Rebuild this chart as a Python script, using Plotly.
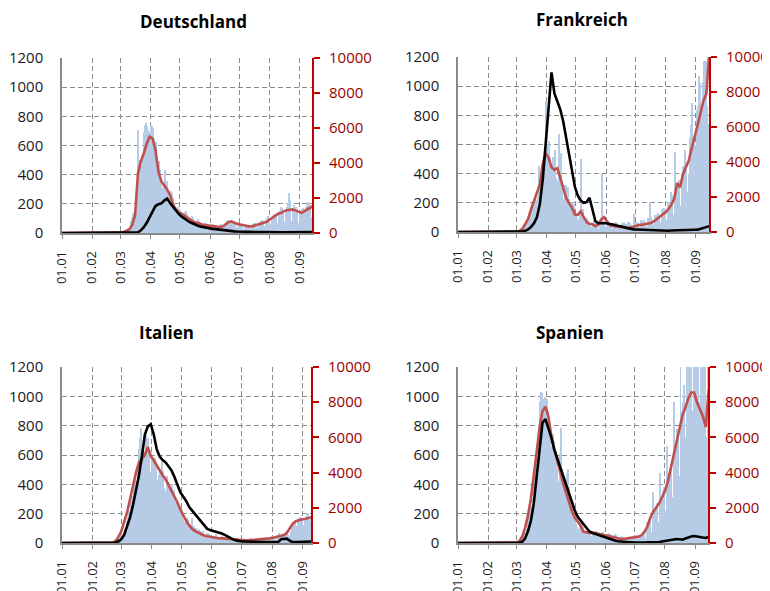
import pandas as pd
import plotly.graph_objects as go

# ---------------- data ----------------
countries = ["Deutschland", "Frankreich", "Italien", "Spanien"]

month_ticks = ["2020-01-01", "2020-02-01", "2020-03-01", "2020-04-01", "2020-05-01",
               "2020-06-01", "2020-07-01", "2020-08-01", "2020-09-01"]
month_labels = ["01.01", "01.02", "01.03", "01.04", "01.05", "01.06", "01.07", "01.08", "01.09"]
cases_ticks = [0, 2000, 4000, 6000, 8000, 10000]
deaths_ticks = [0, 200, 400, 600, 800, 1000, 1200]

# line points every 3 days from 01.01.2020 (87 points)
line_dates = pd.date_range("2020-01-01", periods=87, freq="3D")
# daily bars from 24.02.2020 to 14.09.2020 (204 days)
bar_dates = pd.date_range("2020-02-24", periods=204, freq="D")

# 7-day mean of new cases (red, right axis)
de_cases_avg = [0, 0, 0, 0, 0, 0, 0, 0, 0, 0, 0, 0, 0, 0, 0, 0, 0, 0, 2, 10,
                20, 50, 120, 200, 450, 1000, 3400, 4100, 4550, 5100, 5500, 5400, 4730, 3500, 2950,
                2730, 2480, 2160, 1640, 1340, 1160, 1100, 1000, 850, 750, 640, 580, 540, 490, 450,
                420, 390, 370, 350, 340, 370, 500, 620, 660, 580, 520, 490, 450, 400, 380, 380,
                420, 470, 530, 590, 640, 760, 870, 1000, 1100, 1150, 1250, 1300, 1340, 1350, 1280,
                1220, 1150, 1250, 1350, 1450, 1550]
fr_cases_avg = [0, 0, 0, 0, 0, 0, 0, 0, 0, 0, 0, 0, 0, 0, 0, 0, 0, 0, 1, 5,
                15, 60, 180, 450, 750, 1300, 1750, 2150, 2700, 3900, 4480, 4250, 3700, 3550, 3650,
                3100, 2500, 1950, 1650, 1400, 1000, 980, 1180, 850, 550, 470, 440, 340, 400, 720,
                850, 600, 380, 350, 330, 310, 290, 260, 200, 250, 320, 360, 400, 420, 440, 480,
                520, 600, 750, 880, 1000, 1120, 1300, 1550, 1900, 2800, 2550, 3300, 3700, 4100, 4800,
                5400, 6100, 6800, 7500, 7900, 10300]
it_cases_avg = [0, 0, 0, 0, 0, 0, 0, 0, 0, 0, 0, 0, 0, 0, 0, 0, 2, 20, 100, 320,
                650, 1150, 1750, 2500, 3300, 4000, 4580, 4800, 5000, 5450, 4950, 4700, 4400, 4100, 3850,
                3620, 3290, 3000, 2700, 2300, 1900, 1550, 1250, 1000, 800, 680, 580, 500, 420, 380,
                340, 320, 295, 275, 260, 245, 230, 210, 190, 180, 170, 160, 155, 160, 170, 180,
                190, 200, 215, 235, 260, 285, 320, 360, 400, 450, 580, 850, 1100, 1240, 1300,
                1330, 1360, 1400, 1480, 1520, 1550]
es_cases_avg = [0, 0, 0, 0, 0, 0, 0, 0, 0, 0, 0, 0, 0, 0, 0, 0, 0, 0, 2, 10,
                25, 100, 350, 850, 1570, 2500, 3850, 5200, 6550, 7500, 7750, 7200, 6100, 5350, 4700,
                4000, 3450, 2900, 2350, 1850, 1450, 1250, 1000, 650, 590, 570, 590, 570, 530, 500,
                460, 420, 380, 330, 300, 250, 230, 245, 260, 280, 300, 320, 360, 450, 650, 950,
                1450, 1780, 2000, 2250, 2600, 2950, 3500, 4250, 5100, 5750, 6500, 7250, 7700, 8200, 8550,
                8550, 8000, 7550, 7200, 6600, 8700]

# 7-day mean of deaths (black, left axis)
de_deaths_avg = [0, 0, 0, 0, 0, 0, 0, 0, 0, 0, 0, 0, 0, 0, 0, 0, 0, 0, 0, 0,
                 0, 0, 0, 0, 0, 1, 5, 18, 40, 70, 105, 145, 185, 197, 203,
                 222, 236, 205, 180, 150, 130, 112, 95, 84, 72, 62, 54, 47, 42, 40,
                 35, 30, 27, 25, 21, 18, 16, 15, 13, 11, 10, 9, 9, 8, 7, 7,
                 6, 6, 6, 6, 5, 5, 5, 5, 5, 5, 5, 5, 5, 5, 5,
                 5, 5, 6, 6, 6, 6]
fr_deaths_avg = [0, 0, 0, 0, 0, 0, 0, 0, 0, 0, 0, 0, 0, 0, 0, 0, 0, 0, 0, 0,
                 1, 1, 3, 8, 18, 35, 60, 100, 190, 360, 620, 900, 1095, 950, 890,
                 840, 760, 640, 520, 400, 310, 250, 215, 200, 205, 235, 160, 75, 60, 62,
                 62, 58, 56, 52, 46, 41, 36, 31, 26, 20, 18, 17, 16, 16, 15, 15,
                 14, 10, 8, 7, 7, 8, 9, 10, 10, 11, 11, 12, 12, 13, 14,
                 15, 16, 22, 32, 37, 40]
it_deaths_avg = [0, 0, 0, 0, 0, 0, 0, 0, 0, 0, 0, 0, 0, 0, 0, 0, 0, 1, 3, 10,
                 25, 55, 110, 175, 260, 350, 460, 590, 740, 795, 810, 740, 640, 590, 565,
                 550, 525, 495, 450, 400, 345, 315, 285, 245, 220, 200, 175, 148, 120, 98,
                 88, 82, 78, 75, 65, 55, 43, 32, 23, 16, 12, 10, 10, 9, 9, 8,
                 8, 7, 7, 7, 6, 6, 6, 6, 25, 30, 30, 15, 6, 6, 7,
                 7, 8, 9, 10, 11, 12]
es_deaths_avg = [0, 0, 0, 0, 0, 0, 0, 0, 0, 0, 0, 0, 0, 0, 0, 0, 0, 0, 0, 0,
                 0, 2, 8, 30, 80, 150, 270, 440, 650, 820, 845, 790, 720, 640, 580,
                 525, 465, 395, 340, 280, 225, 180, 155, 128, 100, 80, 70, 63, 56, 48,
                 45, 38, 28, 22, 16, 12, 9, 7, 6, 5, 4, 3, 3, 3, 3, 4,
                 4, 5, 6, 7, 10, 13, 16, 21, 25, 27, 25, 23, 30, 38, 44,
                 48, 46, 41, 37, 34, 42]

# daily new cases (bars, right axis), one row per week Mon..Sun from 24.02.
de_cases = [0, 0, 5, 10, 25, 30, 50,
            40, 30, 60, 90, 150, 180, 170,
            250, 200, 300, 700, 900, 1100, 1200,
            1100, 1500, 2600, 5900, 4000, 4200, 3900,
            3200, 4600, 5800, 6200, 6300, 6100, 5900,
            5000, 5800, 6200, 6100, 6000, 5400, 5300,
            4200, 5200, 4400, 3800, 4100, 3600, 2900,
            2600, 2300, 2900, 3580, 2700, 3000, 2200,
            1900, 2100, 2400, 2300, 2000, 1700, 1400,
            1200, 1300, 1500, 1400, 1300, 1000, 900,
            800, 900, 1200, 1250, 1100, 900, 700,
            600, 800, 950, 900, 850, 700, 550,
            500, 650, 800, 700, 650, 550, 450,
            400, 450, 600, 550, 500, 400, 350,
            300, 350, 450, 500, 450, 400, 300,
            250, 350, 400, 450, 500, 400, 300,
            250, 400, 550, 700, 750, 650, 400,
            350, 550, 650, 600, 500, 450, 300,
            250, 400, 500, 450, 450, 400, 250,
            200, 350, 400, 450, 400, 350, 250,
            200, 350, 500, 550, 550, 450, 300,
            250, 550, 650, 700, 750, 700, 400,
            350, 650, 850, 900, 950, 800, 500,
            450, 900, 1000, 1100, 1100, 1000, 600,
            500, 1200, 1250, 1500, 1450, 1300, 650,
            600, 1400, 1500, 1700, 2300, 1900, 700,
            700, 1300, 1600, 1500, 1500, 1400, 600,
            550, 1200, 1250, 1400, 1450, 1300, 700,
            800, 1500, 1600, 1800, 1700, 1500, 900,
            900]
fr_cases = [0, 0, 2, 10, 20, 40, 50,
            30, 60, 40, 80, 110, 180, 230,
            300, 370, 500, 600, 800, 900, 850,
            1200, 1100, 1400, 1800, 1600, 1850, 1500,
            2000, 3800, 2400, 2900, 3900, 3800, 2600,
            4400, 7500, 4900, 2100, 5200, 4300, 1900,
            3900, 3100, 4300, 4200, 4700, 3100, 2900,
            2500, 5600, 2700, 4500, 2600, 1900, 1500,
            2700, 2700, 1600, 2600, 1900, 1500, 700,
            1700, 1100, 1600, 500, 1100, 800, 300,
            700, 1100, 4200, 1300, 1300, 600, 300,
            500, 800, 700, 500, 600, 400, 200,
            300, 500, 700, 400, 600, 300, 200,
            200, 350, 600, 3300, 600, 400, 200,
            300, 500, 700, 600, 500, 300, 200,
            200, 400, 500, 600, 500, 400, 300,
            200, 400, 500, 500, 600, 450, 300,
            200, 450, 600, 550, 500, 400, 250,
            300, 1050, 500, 600, 550, 500, 250,
            300, 700, 600, 650, 700, 550, 300,
            300, 800, 700, 1700, 850, 700, 400,
            400, 1000, 900, 1000, 1100, 1000, 500,
            600, 1300, 1400, 1300, 1350, 1300, 700,
            700, 1700, 1700, 1600, 2300, 2100, 900,
            1000, 4600, 2500, 2600, 2700, 3000, 1300,
            1500, 3300, 3800, 3700, 4700, 3600, 2300,
            1900, 3300, 5400, 6100, 7400, 5400, 5400,
            1500, 5000, 7000, 7200, 8900, 8500, 7100,
            4200, 6500, 8600, 9800, 9400, 9750, 7200,
            6200]
it_cases = [76, 93, 78, 250, 238, 240, 566,
            342, 466, 587, 769, 778, 1247, 1492,
            1797, 977, 2313, 2651, 2547, 3497, 3590,
            3233, 3526, 4207, 5322, 5986, 6557, 5560,
            4789, 5249, 5210, 6153, 5959, 5974, 5217,
            4050, 4053, 4782, 4668, 4585, 4805, 4316,
            3599, 3039, 3836, 4204, 3951, 4694, 4092,
            3153, 2972, 2667, 3786, 3493, 3491, 3047,
            2256, 2729, 3370, 2646, 3021, 2357, 2324,
            1739, 2091, 2086, 1872, 1965, 1900, 1389,
            1221, 1075, 1444, 1401, 1327, 1083, 802,
            744, 1402, 888, 992, 789, 875, 675,
            451, 813, 665, 642, 652, 669, 531,
            300, 397, 584, 593, 516, 416, 355,
            178, 318, 321, 177, 518, 270, 197,
            280, 283, 202, 379, 163, 346, 338,
            301, 210, 329, 333, 251, 262, 224,
            218, 122, 190, 296, 259, 175, 174,
            126, 142, 187, 201, 223, 235, 192,
            208, 138, 193, 229, 276, 188, 234,
            169, 114, 163, 230, 233, 249, 219,
            190, 129, 282, 306, 252, 275, 255,
            170, 181, 212, 289, 386, 379, 295,
            239, 159, 190, 384, 402, 552, 347,
            463, 259, 412, 481, 523, 574, 629,
            479, 320, 403, 642, 845, 947, 1071,
            1210, 953, 878, 1367, 1411, 1462, 1444,
            1365, 996, 978, 1326, 1397, 1733, 1695,
            1297, 1108, 1370, 1434, 1597, 1616, 1501,
            1008]
es_cases = [0, 2, 4, 5, 10, 15, 30,
            30, 50, 40, 60, 80, 150, 200,
            400, 600, 500, 800, 1200, 1500, 2000,
            1400, 2100, 2500, 3300, 4000, 4900, 3600,
            4500, 6600, 8000, 8600, 8500, 8200, 6500,
            6400, 8300, 7700, 8100, 7500, 7000, 6000,
            4300, 5500, 6200, 5800, 4600, 4800, 4200,
            3500, 3000, 5100, 6550, 4200, 3800, 3200,
            2400, 3000, 3900, 4200, 3200, 2500, 1700,
            1500, 2100, 1600, 1500, 1100, 900, 700,
            500, 800, 1100, 1300, 1000, 900, 600,
            500, 600, 700, 700, 600, 500, 400,
            350, 500, 600, 650, 700, 600, 500,
            300, 400, 500, 550, 600, 500, 400,
            350, 450, 500, 550, 500, 450, 300,
            300, 400, 450, 500, 450, 350, 250,
            250, 300, 350, 400, 350, 300, 200,
            200, 250, 300, 350, 300, 250, 200,
            250, 300, 350, 350, 300, 250, 200,
            350, 400, 500, 600, 700, 300, 250,
            1200, 900, 800, 1000, 1300, 600, 500,
            2900, 1500, 1900, 2100, 2300, 1200, 900,
            4000, 2000, 2500, 3000, 3200, 1800, 1400,
            5500, 3500, 3800, 4200, 4500, 2600, 2000,
            8000, 5000, 5500, 6500, 6000, 3800, 3000,
            12000, 7000, 7500, 8000, 9000, 6000, 5200,
            13000, 8000, 10500, 11000, 12000, 7500, 6500,
            14000, 9500, 10000, 11000, 10500, 8000, 7000,
            14000, 10000, 10500, 11000, 12000, 6000, 5000,
            12000]

cases_daily = [de_cases, fr_cases, it_cases, es_cases]
cases_avg = [de_cases_avg, fr_cases_avg, it_cases_avg, es_cases_avg]
deaths_avg = [de_deaths_avg, fr_deaths_avg, it_deaths_avg, es_deaths_avg]
x_end = ["2020-09-13 17:00", "2020-09-14 17:00", "2020-09-09 10:00", "2020-09-14 07:00"]

# ---------------- layout geometry ----------------
W, H = 770, 591
OFF = 8  # page offset of the figure (default body margin)
boxes = [  # left, right, top, bottom in page px
    (62, 312, 58, 233),
    (458, 709, 57, 232),
    (62, 311, 367, 543),
    (458, 708, 367, 543),
]
title_pos = [(193, 22), (582, 20), (166, 332), (570, 332)]

FONT = "Open Sans, Noto Sans, sans-serif"
GRID = "#8c8c8c"
AXIS_GREY = "#8a8a8a"
RED_AXIS = "#c00000"
RED_TEXT = "#9c0000"
RED_LINE = "#c0504d"
BAR = "#b6cbe5"

fig = go.Figure()
layout = dict(
    width=W, height=H, margin=dict(l=0, r=0, t=0, b=0, pad=0, autoexpand=False),
    paper_bgcolor="white", plot_bgcolor="white",
    showlegend=False, bargap=0, font=dict(family=FONT, size=15, color="#1a1a1a"),
    annotations=[],
)

for i in range(4):
    n = i + 1
    xa = "x" if n == 1 else f"x{n}"
    yb = "y" if n == 1 else f"y{2*n-1}"
    yo = f"y{2*n}"
    l, r, t, b = boxes[i]
    xdom = [(l - OFF) / W, (r - OFF) / W]
    ydom = [1 - (b - OFF) / H, 1 - (t - OFF) / H]

    fig.add_trace(go.Bar(x=bar_dates, y=cases_daily[i], xaxis=xa, yaxis=yb,
                         marker=dict(color=BAR, line=dict(width=0)), hoverinfo="skip"))
    fig.add_trace(go.Scatter(x=line_dates, y=cases_avg[i], xaxis=xa, yaxis=yb, mode="lines",
                             line=dict(color=RED_LINE, width=2.6), hoverinfo="skip"))
    fig.add_trace(go.Scatter(x=line_dates, y=deaths_avg[i], xaxis=xa, yaxis=yo, mode="lines",
                             line=dict(color="black", width=2.6), hoverinfo="skip"))

    xkey = "xaxis" if n == 1 else f"xaxis{n}"
    ybkey = "yaxis" if n == 1 else f"yaxis{2*n-1}"
    yokey = f"yaxis{2*n}"

    layout[xkey] = dict(
        domain=xdom, anchor=yb, type="date", automargin=False,
        range=["2020-01-01", x_end[i]],
        tickmode="array", tickvals=month_ticks, ticktext=month_labels, tickangle=-90,
        showgrid=True, gridcolor=GRID, gridwidth=1, griddash="5px,3px",
        showline=True, linecolor=AXIS_GREY, linewidth=1.5,
        ticks="outside", ticklen=4, tickcolor=AXIS_GREY, tickwidth=1,
        tickfont=dict(size=13, color="#1a1a1a"), ticklabelstandoff=7,
        zeroline=False, fixedrange=True,
    )
    layout[ybkey] = dict(
        domain=ydom, anchor=xa, side="right", range=[0, 10000], automargin=False,
        tickmode="array", tickvals=cases_ticks, ticktext=[str(v) for v in cases_ticks],
        showgrid=False, zeroline=False,
        showline=True, linecolor=RED_AXIS, linewidth=2,
        ticks="outside", ticklen=6, tickwidth=2, tickcolor=RED_AXIS,
        tickfont=dict(size=15, color=RED_TEXT), ticklabelstandoff=6, fixedrange=True,
    )
    layout[yokey] = dict(
        overlaying=yb, anchor=xa, side="left", range=[0, 1200], automargin=False,
        tickmode="array", tickvals=deaths_ticks, ticktext=[str(v) for v in deaths_ticks],
        showgrid=True, gridcolor=GRID, gridwidth=1, griddash="5px,3px",
        zeroline=False, showline=True, linecolor=AXIS_GREY, linewidth=1.5,
        ticks="", tickfont=dict(size=15, color="#1a1a1a"), ticklabelstandoff=14,
        fixedrange=True,
    )
    tx, ty = title_pos[i]
    layout["annotations"].append(dict(
        text=f"<b>{countries[i]}</b>", xref="paper", yref="paper",
        x=(tx - OFF) / W, y=1 - (ty - OFF) / H, xanchor="center", yanchor="middle",
        showarrow=False, font=dict(family=FONT, size=17, color="black"),
    ))

fig.update_layout(**layout)
fig.write_html("out.html")
